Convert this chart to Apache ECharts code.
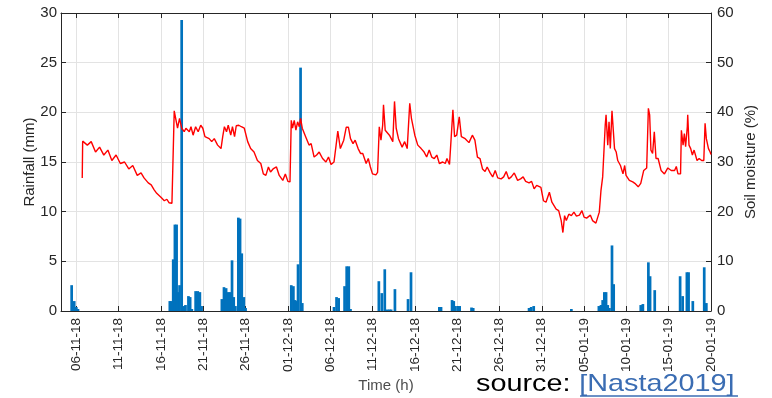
<!DOCTYPE html>
<html>
<head>
<meta charset="utf-8">
<script src="https://cdn.jsdelivr.net/npm/echarts@6/dist/echarts.min.js"></script>
<style>
html,body{margin:0;padding:0;background:#fff;}
#chart{width:772px;height:398px;}
</style>
</head>
<body>
<div id="chart"></div>
<script>
// x values are days since 06-11-18 00:00
const tickDays = [0,5,10,15,20,25,30,35,40,45,50,55,60,65,70,75];
const tickLabels = ['06-11-18','11-11-18','16-11-18','21-11-18','26-11-18','01-12-18','06-12-18','11-12-18','16-12-18','21-12-18','26-12-18','31-12-18','05-01-19','10-01-19','15-01-19','20-01-19'];
const rainTicks = [0,5,10,15,20,25,30];
const moistureTicks = [0,10,20,30,40,50,60];

const rainDays = [-0.55,-0.25,0.0,0.2,
  11.05,11.25,11.45,11.65,11.85,12.05,12.2,12.45,12.7,12.9,13.25,13.45,13.65,
  14.1,14.35,14.6,14.8,
  17.2,17.45,17.7,17.95,18.15,18.4,18.6,18.8,19.15,19.35,19.55,19.8,20.0,
  25.4,25.65,25.85,26.0,26.2,26.5,26.7,
  30.45,30.75,31.0,31.7,31.95,32.2,32.4,
  35.75,36.1,36.45,36.75,37.0,37.2,37.65,39.2,39.55,
  42.9,43.1,44.4,44.6,44.8,45.1,45.3,46.7,46.9,
  53.5,53.75,54.05,58.5,
  61.75,62.0,62.2,62.4,62.6,62.8,63.0,63.3,63.5,
  66.7,66.95,67.6,67.8,68.35,
  71.35,71.65,72.15,72.35,72.85,74.2,74.45];
const rainValues = [2.6,1.0,0.4,0.2,
  1.0,1.0,5.2,8.7,8.7,1.9,2.6,29.3,0.5,0.6,1.5,1.4,0.2,
  2.0,2.0,1.9,0.5,
  1.2,2.4,2.3,1.9,1.9,5.1,1.4,0.5,9.4,9.3,5.8,1.4,0.3,
  2.6,2.5,1.1,1.0,4.7,24.5,0.8,
  0.4,1.4,1.3,2.5,4.5,4.5,0.2,
  3.0,1.8,4.2,0.15,0.15,0.15,2.2,1.2,3.9,
  0.4,0.4,1.1,1.0,0.5,0.5,0.5,0.35,0.3,
  0.3,0.4,0.5,0.2,
  0.5,0.6,1.1,1.9,1.9,0.6,0.3,6.6,2.7,
  0.6,0.7,4.9,3.5,2.1,
  3.5,1.5,3.9,3.9,1.0,4.4,0.8];

const soilDays = [0.70,0.75,0.95,1.3,1.76,2.27,2.75,3.25,3.73,4.2,4.7,5.2,5.7,6.2,6.67,7.2,7.65,8.0,8.5,8.85,9.2,9.5,9.7,10.0,10.4,10.7,10.95,11.3,11.5,
  11.57,11.7,11.96,12.2,12.45,12.75,12.95,13.35,13.55,13.8,14.1,14.4,14.7,14.95,15.2,15.7,16.0,16.3,16.7,17.1,17.3,17.5,17.75,17.95,18.25,18.45,18.7,18.9,19.2,19.5,19.85,
  20.25,20.6,21.0,21.4,21.8,22.1,22.4,22.7,22.95,23.25,23.65,23.98,24.4,24.7,25.0,25.25,
  25.4,25.55,25.75,25.95,26.15,26.35,26.5,26.7,27.1,27.5,27.75,28.1,28.4,28.7,29.1,29.5,29.8,30.1,30.45,
  30.7,30.9,31.2,31.6,31.9,32.15,32.4,32.7,32.95,33.3,33.6,33.85,34.05,34.25,34.5,34.75,35.0,35.4,35.6,
  35.8,36.0,36.2,36.3,36.5,37.0,37.4,37.6,37.8,38.07,38.5,38.8,39.1,39.4,39.6,40.0,40.35,40.75,41.1,41.4,41.7,42.0,42.3,42.6,42.9,43.3,43.6,43.8,44.1,44.3,
  44.5,44.7,44.95,45.25,45.5,45.95,46.4,46.8,47.1,47.4,47.7,48.0,48.3,48.55,48.9,49.2,49.5,49.8,50.2,50.5,50.8,51.1,51.4,51.75,52.15,52.5,52.8,53.1,53.5,53.8,54.1,54.4,54.9,
  55.2,55.5,55.9,56.2,56.7,57.0,57.3,57.5,57.7,57.9,58.2,58.5,58.8,59.1,59.45,59.75,60.0,60.3,60.75,61.0,61.4,61.6,61.8,62.0,62.2,62.35,
  62.5,62.6,62.8,62.95,63.1,63.3,63.45,63.6,63.8,63.98,64.3,64.6,64.8,64.96,65.35,65.75,66.0,66.4,66.7,67.05,67.4,
  67.6,67.75,67.9,68.1,68.3,68.5,68.75,69.1,69.5,69.9,70.3,70.7,70.9,71.1,71.4,
  71.5,71.7,71.85,72.0,72.2,72.25,72.4,72.6,72.8,73.0,73.35,73.6,73.9,74.15,74.3,74.45,74.7,74.9,75.0];
const soilValues = [26.8,34.2,34.0,33.4,34.1,32.0,33.0,31.4,32.4,30.3,31.4,29.7,30.0,28.6,29.3,27.3,27.8,26.8,25.8,25.4,24.4,23.7,24.1,22.9,22.2,22.5,21.8,21.7,21.9,
  40.3,40.7,36.8,38.8,36.8,36.1,36.8,36.1,37.1,35.4,37.1,36.1,37.4,36.8,35.1,34.7,34.1,34.7,33.4,32.7,35.1,37.1,36.1,37.4,35.4,37.1,35.1,37.3,37.4,37.1,36.8,
  34.1,32.7,32.0,30.3,29.7,27.6,27.3,29.0,28.0,28.6,29.0,27.3,26.3,27.6,26.1,26.0,
  38.4,36.8,38.4,36.4,38.1,37.1,38.8,36.8,35.1,33.4,33.7,31.0,31.4,32.0,30.7,30.0,31.0,29.5,30.0,
  33.4,36.2,32.7,34.4,37.0,37.0,34.7,33.7,34.4,32.7,31.7,31.7,30.7,29.7,30.7,29.0,27.6,27.4,27.9,
  37.1,34.4,37.4,41.5,36.4,35.4,34.1,42.2,36.8,34.7,33.0,34.1,32.7,41.8,38.8,35.4,33.4,32.7,32.0,31.0,32.4,31.0,30.7,31.4,29.7,30.0,29.7,30.7,29.5,29.7,
  40.5,35.1,35.4,39.1,35.1,34.7,33.9,35.4,34.4,31.0,30.7,28.6,28.1,29.0,27.8,27.0,28.3,26.8,26.6,27.0,28.1,26.6,27.0,27.8,26.3,26.6,27.0,26.1,25.8,26.1,24.6,25.3,24.9,
  22.2,21.9,23.9,21.9,20.5,20.2,18.2,15.8,19.2,18.2,19.5,19.2,19.9,19.1,19.3,20.2,18.9,18.7,19.3,18.2,17.7,17.9,19.9,24.3,27.0,27.0,
  37.4,39.5,33.4,38.1,32.7,40.3,40.2,32.7,32.0,30.3,29.3,27.6,29.3,27.3,26.3,26.0,25.7,25.0,25.7,28.3,28.8,
  40.8,39.5,32.4,31.7,36.1,30.7,30.7,28.3,27.6,28.8,28.3,28.3,29.1,27.6,27.6,
  36.4,33.4,35.7,33.1,37.1,39.5,33.4,32.7,31.4,32.4,30.3,30.7,30.3,30.3,37.8,34.7,32.7,32.0,31.5];

const rainData = rainDays.map((d, i) => [d, rainValues[i]]);
const soilData = soilDays.map((d, i) => [d, soilValues[i]]);

const FONT = "'Liberation Sans', Arial, Helvetica, sans-serif";
const AX = '#262626';
const GRID = '#e3e3e3';

const chart = echarts.init(document.getElementById('chart'), null, {renderer: 'canvas'});
const xCommon = {
  type: 'value', min: -1.81, max: 75,
  axisLine: {show: true, onZero: false, lineStyle: {color: AX, width: 1}},
  axisTick: {show: true, inside: true, length: 5, customValues: tickDays, lineStyle: {color: AX}},
};
chart.setOption({
  animation: false,
  backgroundColor: '#fff',
  grid: {left: 61, right: 61, top: 13, bottom: 87, containLabel: false},
  xAxis: [
    Object.assign({}, xCommon, {
      position: 'bottom',
      name: 'Time (h)', nameLocation: 'middle', nameGap: 67, nameMoveOverlap: false,
      nameTextStyle: {fontFamily: FONT, fontSize: 15, color: '#4d4d4d'},
      axisLabel: {show: true, customValues: tickDays, rotate: 90, margin: 7, fontFamily: FONT, fontSize: 13.5, color: AX,
        formatter: v => tickLabels[Math.round(v / 5)]},
      splitLine: {show: true, lineStyle: {color: GRID, width: 1}}
    }),
    Object.assign({}, xCommon, {
      position: 'top',
      axisLabel: {show: false},
      splitLine: {show: false}
    })
  ],
  yAxis: [
    {
      type: 'value', min: 0, max: 30, interval: 5, position: 'left',
      name: 'Rainfall (mm)', nameLocation: 'middle', nameGap: 24, nameRotate: 90, nameMoveOverlap: false,
      nameTextStyle: {fontFamily: FONT, fontSize: 15, color: AX},
      axisLine: {show: true, onZero: false, lineStyle: {color: AX}},
      axisTick: {show: true, inside: true, length: 5, lineStyle: {color: AX}},
      axisLabel: {margin: 4, fontFamily: FONT, fontSize: 15, color: AX,
        formatter: v => String(rainTicks[Math.round(v / 5)])},
      splitLine: {show: true, lineStyle: {color: GRID, width: 1}}
    },
    {
      type: 'value', min: 0, max: 60, interval: 10, position: 'right',
      name: 'Soil moisture (%)', nameLocation: 'middle', nameGap: 32, nameRotate: 90, nameMoveOverlap: false,
      nameTextStyle: {fontFamily: FONT, fontSize: 15, color: AX},
      axisLine: {show: true, onZero: false, lineStyle: {color: AX}},
      axisTick: {show: true, inside: true, length: 5, lineStyle: {color: AX}},
      axisLabel: {margin: 6, fontFamily: FONT, fontSize: 15, color: AX,
        formatter: v => String(moistureTicks[Math.round(v / 10)])},
      splitLine: {show: false}
    }
  ],
  series: [
    {
      type: 'bar', xAxisIndex: 0, yAxisIndex: 0, data: rainData,
      barWidth: 2.7, itemStyle: {color: '#0072BD'}, z: 2
    },
    {
      type: 'line', xAxisIndex: 0, yAxisIndex: 1, data: soilData,
      showSymbol: false, symbol: 'none', smooth: false,
      lineStyle: {color: '#ff0000', width: 1.4}, z: 3
    }
  ],
  graphic: [
    {
      type: 'group', x: 476, y: 384, scaleX: 1.2, scaleY: 1,
      children: [
        {type: 'text', x: 0, y: 0, style: {text: 'source: ', font: '24px ' + FONT, fill: '#000', verticalAlign: 'middle', align: 'left'}},
        {type: 'text', x: 86, y: 0, style: {text: '[Nasta2019]', font: '24px ' + FONT, fill: '#3b6db3', verticalAlign: 'middle', align: 'left'}}
      ]
    },
    {type: 'line', shape: {x1: 580, y1: 396, x2: 738, y2: 396}, style: {stroke: '#3b6db3', lineWidth: 1.5}}
  ]
});
</script>
</body>
</html>
